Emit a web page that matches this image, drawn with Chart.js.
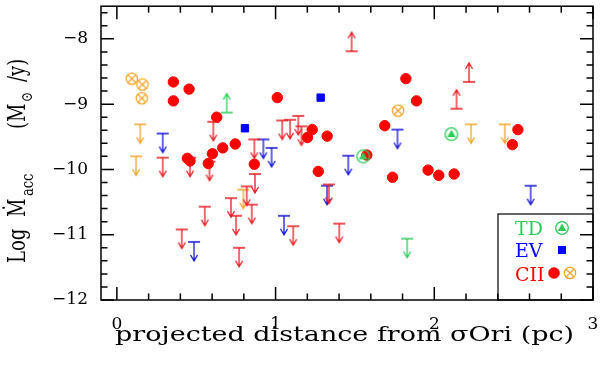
<!DOCTYPE html>
<html><head><meta charset="utf-8">
<script src="https://cdn.jsdelivr.net/npm/chart.js@4.4.0/dist/chart.umd.min.js"></script>
<style>html,body{margin:0;padding:0;background:#fff;} canvas{display:block;}</style>
</head><body>
<canvas id="c" width="600" height="366"></canvas>
<script>
// ---------------- data ----------------
const xTicks = [0, 1, 2, 3];
const yTicks = [-12, -11, -10, -9, -8];
const xTitle = 'projected distance from \u03c3Ori (pc)';
const legendLabels = ['TD', 'EV', 'CII'];

// CII detections (filled red circles)
const ciiDetX = [0.356,0.455,0.356,0.629,0.746,0.667,0.602,0.444,0.461,0.576,0.866,1.011,1.231,1.201,1.325,1.269,1.575,1.688,1.737,1.821,1.888,1.961,2.028,2.125,2.527,2.492];
const ciiDetY = [-8.66,-8.77,-8.95,-9.20,-9.61,-9.67,-9.76,-9.83,-9.87,-9.91,-9.92,-8.90,-9.39,-9.51,-9.49,-10.03,-9.78,-9.33,-10.12,-8.61,-8.95,-10.01,-10.09,-10.07,-9.39,-9.62];
// CII crossed circles (orange)
const ciiOpenX = [0.094,0.161,0.157,1.772];
const ciiOpenY = [-8.61,-8.70,-8.91,-9.10];
// EV detections (blue squares)
const evDetX = [0.807,1.284];
const evDetY = [-9.37,-8.90];
// TD detections (green)
const tdDetX = [1.552,2.108];
const tdDetY = [-9.80,-9.46];
// upper limits
const ciiUpperX = [0.289,0.461,0.584,0.608,0.866,0.870,0.818,0.850,0.719,0.751,0.554,0.409,0.770,1.042,1.091,1.143,1.163,1.336,1.111,1.401];
const ciiUpperY = [-9.82,-9.82,-9.88,-9.27,-9.54,-10.07,-10.26,-10.54,-10.44,-10.71,-10.57,-10.92,-11.20,-9.25,-9.24,-9.18,-9.34,-10.23,-10.87,-10.83];
const evUpperX = [0.289,0.486,0.923,0.975,1.458,1.324,1.053,1.768,2.607];
const evUpperY = [-9.45,-11.11,-9.54,-9.67,-9.79,-10.25,-10.71,-9.39,-10.25];
const ciiOpenUpperX = [0.147,0.121,0.797,2.232,2.444];
const ciiOpenUpperY = [-9.31,-9.80,-10.31,-9.31,-9.31];
const tdUpperX = [1.829];
const tdUpperY = [-11.06];
// lower limits
const ciiLowerX = [1.479,2.219,2.140];
const ciiLowerY = [-8.19,-8.66,-9.07];
const tdLowerX = [0.692];
const tdLowerY = [-9.13];

// ---------------- styles ----------------
const RED = '#ff0000', RED_A = '#ea1a22', BLUE = '#0000ff', BLUE_A = '#1414d8',
      GREEN = '#2ecc5a', ORANGE = '#f4a328';
const SERIF = '"DejaVu Serif", serif';

function limitMarker(color, dir) {
  const L = 19, W = 12;
  const c = document.createElement('canvas');
  c.width = W + 4; c.height = 2 * L + 4;
  const g = c.getContext('2d');
  const cx = c.width / 2, cy = c.height / 2;
  g.strokeStyle = color; g.lineWidth = 1.3;
  g.beginPath();
  g.moveTo(cx - W / 2, cy); g.lineTo(cx + W / 2, cy);
  g.moveTo(cx, cy); g.lineTo(cx, cy + dir * L);
  g.moveTo(cx - 3.5, cy + dir * (L - 6)); g.lineTo(cx, cy + dir * L); g.lineTo(cx + 3.5, cy + dir * (L - 6));
  g.stroke();
  return c;
}
function drawOtimes(g, cx, cy, r, color) {
  g.strokeStyle = color; g.lineWidth = 1.2;
  g.beginPath(); g.arc(cx, cy, r, 0, Math.PI * 2); g.stroke();
  const d = r * Math.SQRT1_2;
  g.beginPath();
  g.moveTo(cx - d, cy - d); g.lineTo(cx + d, cy + d);
  g.moveTo(cx - d, cy + d); g.lineTo(cx + d, cy - d);
  g.stroke();
}
function drawTD(g, cx, cy, color) {
  g.strokeStyle = color; g.lineWidth = 1.3;
  g.beginPath(); g.arc(cx, cy, 6.3, 0, Math.PI * 2); g.stroke();
  g.fillStyle = color;
  g.beginPath(); g.moveTo(cx, cy - 4.6); g.lineTo(cx + 4.3, cy + 3); g.lineTo(cx - 4.3, cy + 3); g.closePath(); g.fill();
}
function symbolCanvas(fn) {
  const c = document.createElement('canvas'); c.width = 18; c.height = 18;
  fn(c.getContext('2d'), 9, 9); return c;
}
const otimesImg = symbolCanvas((g, x, y) => drawOtimes(g, x, y, 5.7, ORANGE));
const tdImg = symbolCanvas((g, x, y) => drawTD(g, x, y, GREEN));

const pts = (xs, ys) => xs.map((v, i) => ({ x: v, y: ys[i] }));
const limitSet = (xs, ys, color, dir) => ({
  data: pts(xs, ys), pointStyle: limitMarker(color, dir), pointRadius: 3, order: 10
});

const datasets = [
  limitSet(ciiUpperX, ciiUpperY, RED_A, 1),
  limitSet(evUpperX, evUpperY, BLUE_A, 1),
  limitSet(ciiOpenUpperX, ciiOpenUpperY, ORANGE, 1),
  limitSet(tdUpperX, tdUpperY, GREEN, 1),
  limitSet(ciiLowerX, ciiLowerY, RED_A, -1),
  limitSet(tdLowerX, tdLowerY, GREEN, -1),
  { data: pts(ciiOpenX, ciiOpenY), pointStyle: otimesImg, pointRadius: 3, order: 5 },
  { data: pts(ciiDetX, ciiDetY), pointStyle: 'circle', pointRadius: 5.2, borderWidth: 1,
    backgroundColor: RED, borderColor: RED, order: 4 },
  { data: pts(evDetX, evDetY), pointStyle: 'rect', pointRadius: 5.2, borderWidth: 1,
    backgroundColor: BLUE, borderColor: BLUE, order: 3 },
  { data: pts(tdDetX, tdDetY), pointStyle: tdImg, pointRadius: 3, order: 1 }
];

const fmt = v => (v < 0 ? '\u2212' + Math.abs(v) : String(v));
const noPad = s => { s.paddingLeft = 0; s.paddingRight = 0; s.paddingTop = 0; s.paddingBottom = 0; };

const framePlugin = {
  id: 'frame',
  afterDatasetsDraw(chart) {
    const { ctx, chartArea: a, scales: { x, y } } = chart;
    ctx.save();
    ctx.strokeStyle = '#000'; ctx.lineWidth = 1.5;
    ctx.strokeRect(a.left, a.top, a.right - a.left, a.bottom - a.top);
    const MAJ = 13, MIN = 6.5;
    ctx.beginPath();
    for (let i = 0; i <= 15; i++) {
      const v = i * 0.2; if (v > x.max + 1e-9) continue;
      const L = (i % 5 === 0) ? MAJ : MIN;
      const px = x.getPixelForValue(v);
      ctx.moveTo(px, a.bottom); ctx.lineTo(px, a.bottom - L);
      ctx.moveTo(px, a.top); ctx.lineTo(px, a.top + L);
    }
    for (let i = 0; i <= 25; i++) {
      const v = -12 + i * 0.2; if (v > y.max + 1e-9) continue;
      const L = (i % 5 === 0) ? MAJ : MIN;
      const py = y.getPixelForValue(v);
      ctx.moveTo(a.left, py); ctx.lineTo(a.left + L, py);
      ctx.moveTo(a.right, py); ctx.lineTo(a.right - L, py);
    }
    ctx.stroke();

    // legend box
    const bx = a.right - 95, by = a.bottom - 86;
    ctx.lineWidth = 1.2;
    ctx.strokeRect(bx, by, a.right - bx, a.bottom - by);
    ctx.font = '19px ' + SERIF; ctx.textAlign = 'left'; ctx.textBaseline = 'alphabetic';
    ctx.fillStyle = GREEN; ctx.fillText(legendLabels[0], a.right - 78, a.bottom - 65);
    ctx.fillStyle = BLUE; ctx.fillText(legendLabels[1], a.right - 78, a.bottom - 43);
    ctx.fillStyle = RED; ctx.fillText(legendLabels[2], a.right - 78, a.bottom - 19);
    drawTD(ctx, a.right - 31, a.bottom - 72, GREEN);
    ctx.fillStyle = BLUE; ctx.fillRect(a.right - 35, a.bottom - 54, 8, 8);
    ctx.fillStyle = RED; ctx.beginPath(); ctx.arc(a.right - 39, a.bottom - 27, 5.8, 0, Math.PI * 2); ctx.fill();
    drawOtimes(ctx, a.right - 23, a.bottom - 27, 5.7, ORANGE);
    ctx.restore();
  },
  afterDraw(chart) {
    const { ctx, chartArea: a } = chart;
    ctx.save();
    ctx.fillStyle = '#000';
    // x title
    ctx.font = '20px ' + SERIF; ctx.textAlign = 'center'; ctx.textBaseline = 'alphabetic';
    const w = ctx.measureText(xTitle).width;
    ctx.translate(344.5, 341);
    ctx.scale(459 / w, 1);
    ctx.fillText(xTitle, 0, 0);
    ctx.restore();
    // y title (rotated)
    ctx.save();
    ctx.fillStyle = '#000';
    ctx.translate(25, 263);
    ctx.rotate(-Math.PI / 2);
    ctx.scale(1, 1.3);
    ctx.textAlign = 'left'; ctx.textBaseline = 'alphabetic';
    ctx.font = '18px ' + SERIF;
    ctx.fillText('Log', 0, 0);
    ctx.fillText('\u1e40', 46, 0);
    ctx.font = '13px ' + SERIF;
    ctx.fillText('acc', 67, 6);
    ctx.font = '18px ' + SERIF;
    ctx.fillText('(M', 134, 0);
    ctx.font = '12px ' + SERIF;
    ctx.fillText('\u2299', 161, 5);
    ctx.font = '18px ' + SERIF;
    ctx.fillText('/y)', 181, 0);
    ctx.restore();
  }
};

new Chart(document.getElementById('c'), {
  type: 'scatter',
  data: { datasets },
  options: {
    responsive: false, devicePixelRatio: 1, animation: false, events: [],
    layout: { padding: { left: 0, right: 7, top: 4, bottom: 0 } },
    plugins: { legend: { display: false }, tooltip: { enabled: false } },
    scales: {
      x: {
        type: 'linear', min: -0.1, max: 3,
        afterBuildTicks: s => { s.ticks = xTicks.map(v => ({ value: v })); },
        afterFit: s => { s.height = 66; noPad(s); },
        grid: { display: false, drawTicks: false }, border: { display: false },
        ticks: { color: '#000', font: { family: SERIF, size: 17 }, padding: 14, callback: fmt, maxRotation: 0 }
      },
      y: {
        type: 'linear', min: -12, max: -7.5,
        afterBuildTicks: s => { s.ticks = yTicks.map(v => ({ value: v })); },
        afterFit: s => { s.width = 101; noPad(s); },
        grid: { display: false, drawTicks: false }, border: { display: false },
        ticks: { color: '#000', font: { family: SERIF, size: 17 }, padding: 13, callback: fmt }
      }
    }
  },
  plugins: [framePlugin]
});
</script>
</body></html>
